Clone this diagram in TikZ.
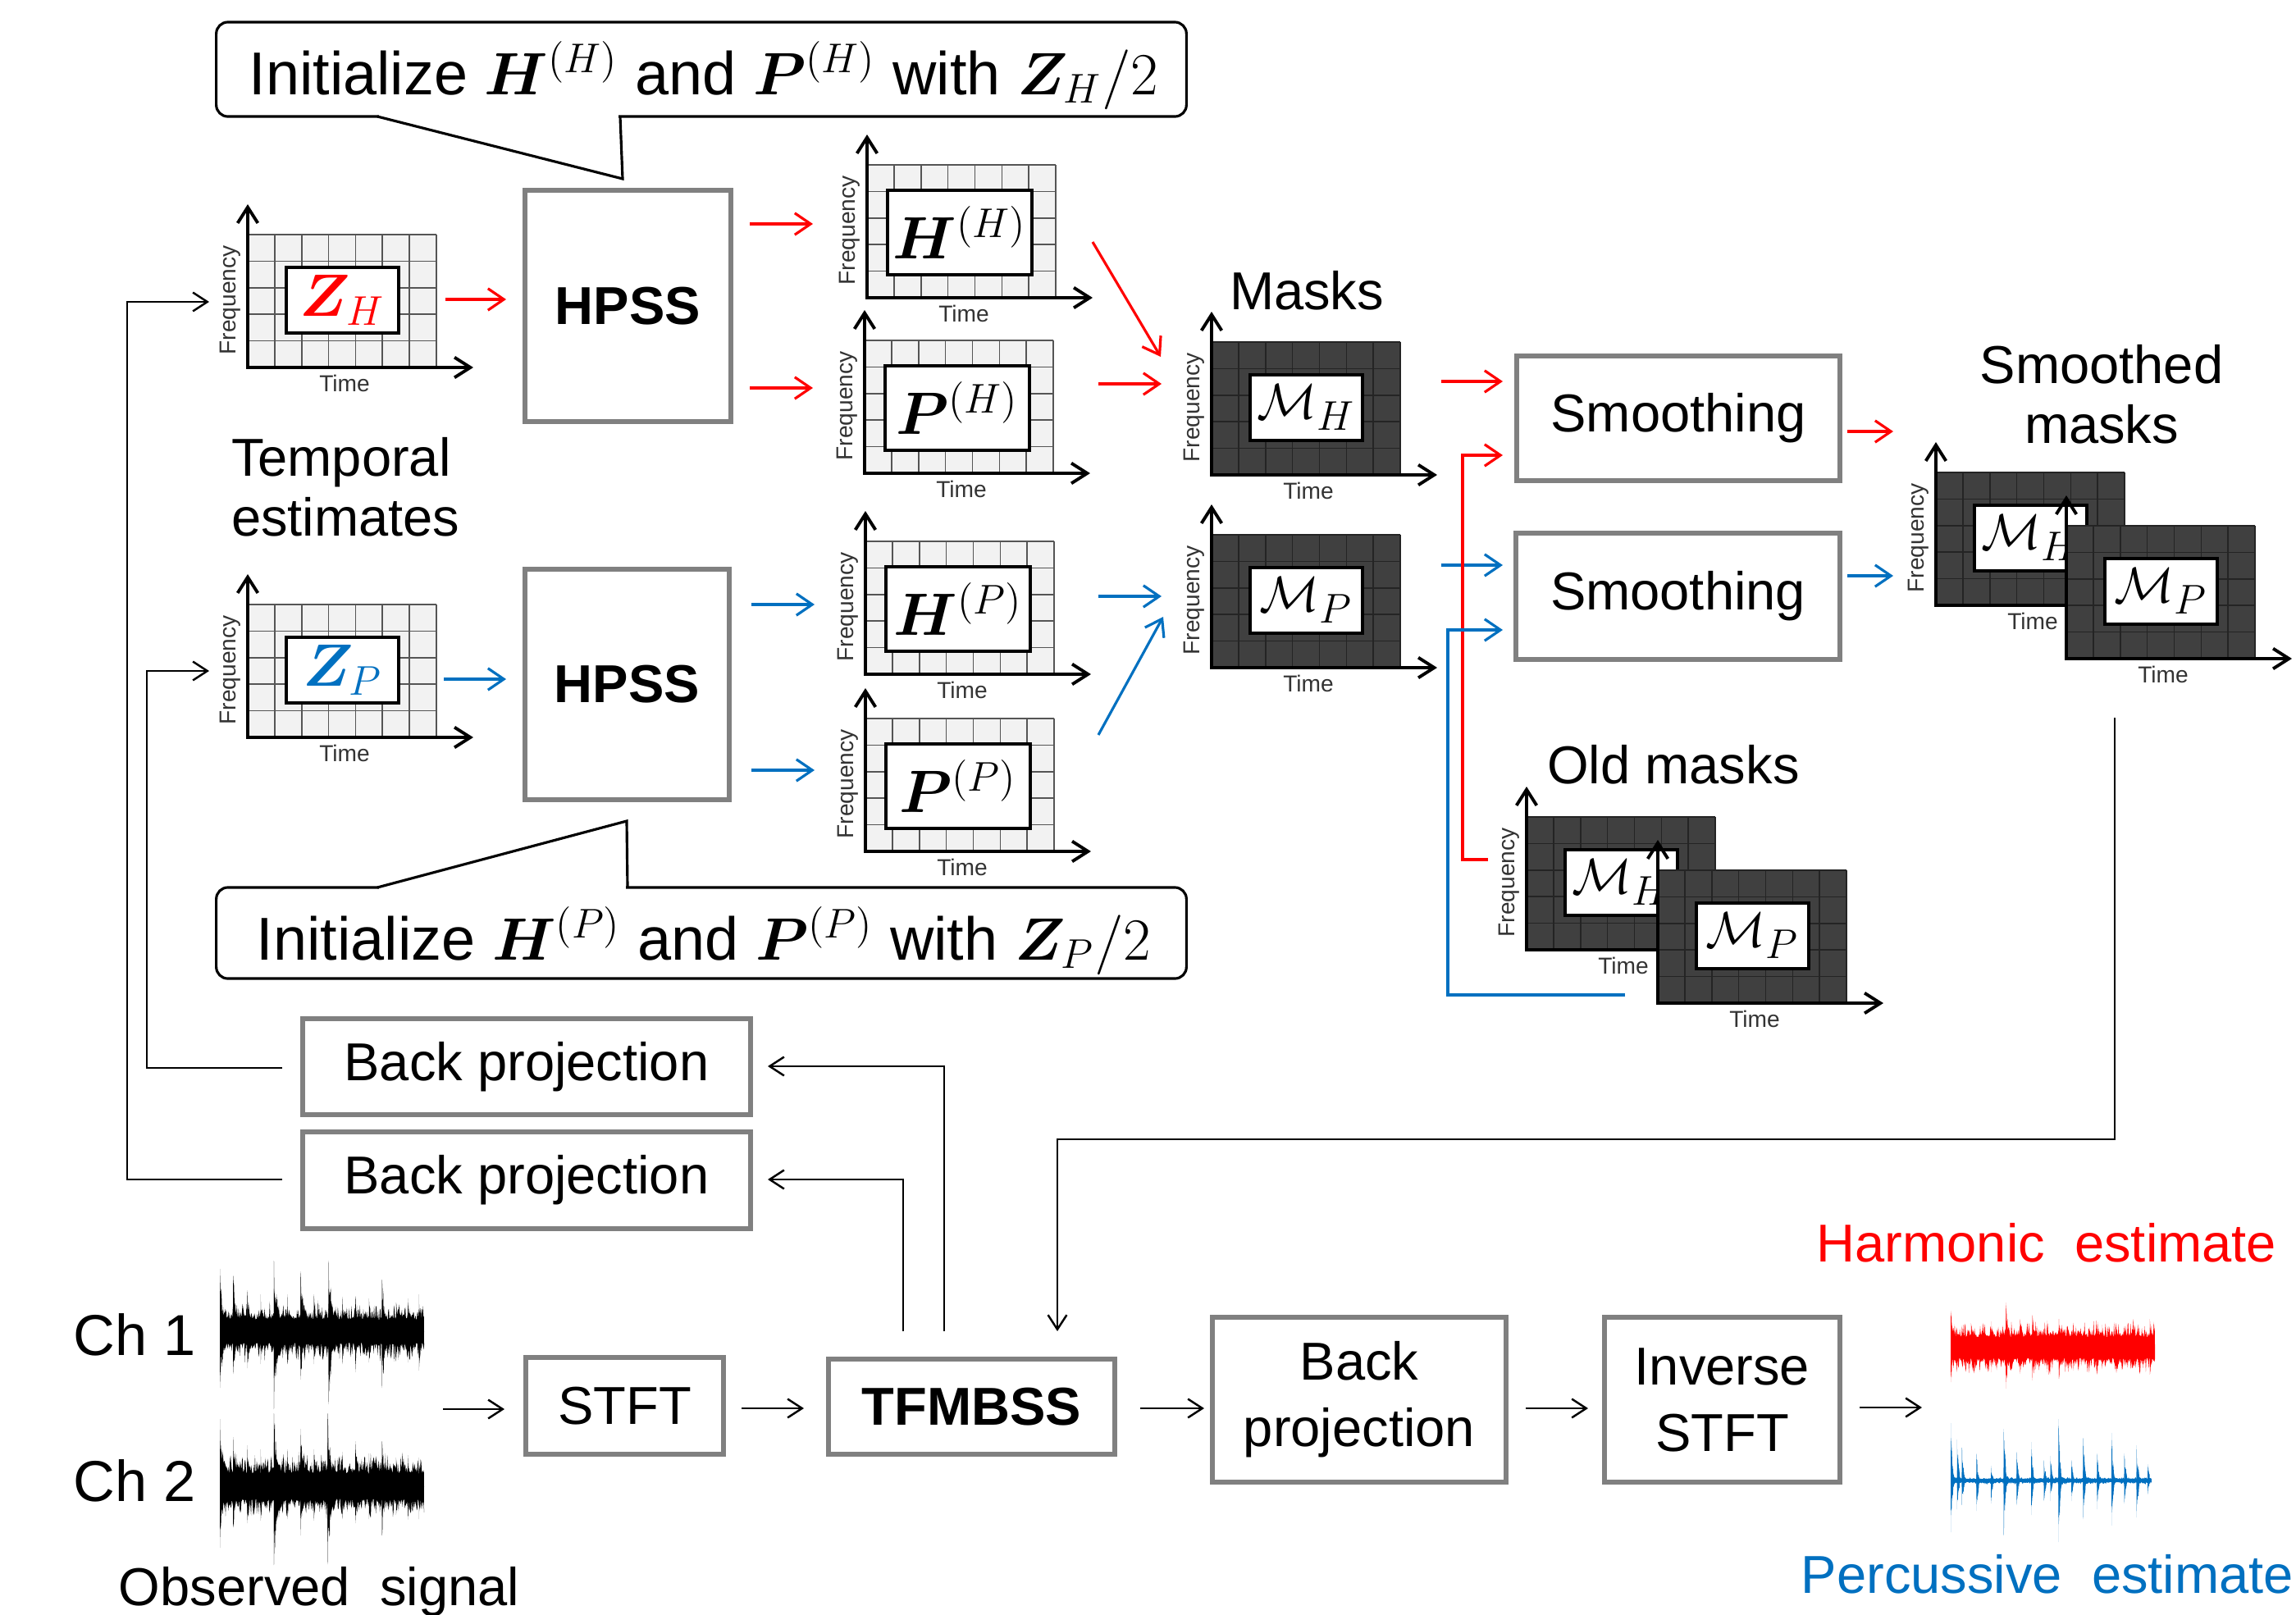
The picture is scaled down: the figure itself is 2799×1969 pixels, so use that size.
\documentclass[tikz,border=0pt]{standalone}
\usepackage[no-math]{fontspec}
\setmainfont{Liberation Sans}
\usepackage{amsmath,bm}
\usetikzlibrary{arrows.meta,calc}
\definecolor{hred}{RGB}{255,0,0}
\definecolor{pblue}{RGB}{0,112,192}
\definecolor{boxgray}{RGB}{128,128,128}
\definecolor{lgfill}{RGB}{242,242,242}
\definecolor{lgline}{RGB}{85,85,85}
\definecolor{dkfill}{RGB}{64,64,64}
\definecolor{dkline}{RGB}{36,36,36}

% box from corners: style, name, x1, y1, x2, y2, text
\newcommand\bx[7]{%
  \pgfmathsetmacro\bxcx{(#3+#5)/2}%
  \pgfmathsetmacro\bxcy{(#4+#6)/2}%
  \pgfmathsetmacro\bxw{abs(#5-#3)/100}%
  \pgfmathsetmacro\bxh{abs(#6-#4)/100}%
  \node[#1, minimum width=\bxw cm, minimum height=\bxh cm] (#2) at (\bxcx,\bxcy) {#7};%
}
% spectrogram: name, x0, y0 (origin), fill, line, kind, label
\newcommand\spec[7]{%
  \fill[#4] (#2,{#3-162}) rectangle ({#2+230},#3);
  \foreach \i in {1,...,7} \draw[#5, line width=0.45pt] ({#2+\i*230/7},#3) -- ({#2+\i*230/7},{#3-162});
  \foreach \j in {1,...,5} \draw[#5, line width=0.45pt] (#2,{#3-\j*162/5}) -- ({#2+230},{#3-\j*162/5});
  \draw[axis] (#2,{#3-199}) -- (#2,#3) -- ({#2+275},#3);
  \node[timelab] (#1-time) at ({#2+118},{#3+19}) {Time};
  \ifnum#6=1
    \node[inbox, minimum width=1.37cm, minimum height=0.80cm, font=\fontsize{19}{22}\selectfont] (#1) at ({#2+115.5},{#3-82}) {#7};
  \else
    \node[inbox, minimum width=1.76cm, minimum height=1.03cm, font=\fontsize{21}{24}\selectfont] (#1) at ({#2+113},{#3-79.5}) {#7};
  \fi
}
\newcommand\freq[3]{\node[freqlab] (#1) at ({#2-21},{#3-82}) {Frequency};}
% waveform body: x0, W, yc, amp, color, samples
\newcommand\wbody[6]{%
  \fill[#5] plot[domain=0:1, samples=#6, variable=\t] ({#1+#2*\t},{#3-#4*(0.35+0.65*rnd*rnd)}) -- plot[domain=1:0, samples=#6, variable=\t] ({#1+#2*\t},{#3+#4*(0.35+0.65*rnd*rnd)}) -- cycle;}
% bump (quadratic decay): x0, W, yc, p, hup, hdown, width, color
\newcommand\wspike[8]{%
  \fill[#8] plot[domain=0:1, samples=16, variable=\s] ({#1+#2*(#4+(#7)*\s)},{#3-(#5)*(1-\s)*(1-\s)*(1-0.5*rnd*(\s>0.001))}) -- plot[domain=1:0, samples=16, variable=\s] ({#1+#2*(#4+(#7)*\s)},{#3+(#6)*(1-\s)*(1-\s)*(1-0.5*rnd*(\s>0.001))}) -- cycle;}
% needle (sharp decay, jagged): same args
\newcommand\wneedle[8]{%
  \fill[#8] plot[domain=0:1, samples=16, variable=\s] ({#1+#2*(#4+(#7)*\s)},{#3-(#5)*(1-\s)*(1-0.6*rnd*(\s>0.001))}) -- plot[domain=1:0, samples=16, variable=\s] ({#1+#2*(#4+(#7)*\s)},{#3+(#6)*(1-\s)*(1-0.6*rnd*(\s>0.001))}) -- cycle;}

\begin{document}
\begin{tikzpicture}[x=0.01cm, y=-0.01cm,
  every node/.style={inner sep=0pt, outer sep=0pt},
  gbox/.style={draw=boxgray, line width=1.7pt, fill=white, font=\fontsize{18.5}{23}\selectfont, align=center},
  inbox/.style={draw=black, line width=1.1pt, fill=white},
  axis/.style={line width=1.1pt, {Straight Barb[length=5.5pt,width=7pt]}-{Straight Barb[length=5.5pt,width=7pt]}},
  carr/.style={line width=0.9pt, -{Straight Barb[length=5.5pt,width=7.5pt]}},
  karr/.style={line width=0.7pt, black, -{Straight Barb[length=5pt,width=6.5pt]}},
  txt/.style={font=\fontsize{18.5}{22}\selectfont},
  timelab/.style={font=\fontsize{8}{9}\selectfont, text=black!80},
  freqlab/.style={font=\fontsize{8}{9}\selectfont, text=black!80, rotate=90},
  callout/.style={draw=black, line width=0.9pt, fill=white, rounded corners=4pt},
]
\pgfmathsetseed{12345}
\useasboundingbox (0,0) rectangle (2799,1969);
\fill[white] (0,0) rectangle (2799,1969);

% ---------- callouts ----------
\bx{callout}{co1}{264}{27}{1446}{142}{}
\fill[white] (462,136) rectangle (754,148);
\draw[line width=0.9pt, line join=miter] (460,142) -- (759,218) -- (756,142);
\node[font=\fontsize{21}{24}\selectfont, anchor=base] (co1t) at (858,115) {Initialize $\bm{H}^{(H)}$ and $\bm{P}^{(H)}$ with $\bm{Z}_H/2$};

\bx{callout}{co2}{264}{1082}{1446}{1193}{}
\fill[white] (462,1076) rectangle (763,1088);
\draw[line width=0.9pt, line join=miter] (460,1082) -- (764,1001) -- (765,1082);
\node[font=\fontsize{21}{24}\selectfont, anchor=base] (co2t) at (858,1170) {Initialize $\bm{H}^{(P)}$ and $\bm{P}^{(P)}$ with $\bm{Z}_P/2$};

% ---------- spectrograms ----------
\spec{zh}{302}{448}{lgfill}{lgline}{1}{\fontsize{22}{24}\selectfont\color{hred}$\bm{Z}_H$}
\freq{zh-f}{302}{448}
\spec{zp}{302}{899}{lgfill}{lgline}{1}{\fontsize{22}{24}\selectfont\color{pblue}$\bm{Z}_P$}
\freq{zp-f}{302}{899}
\spec{hh}{1057}{363}{lgfill}{lgline}{2}{$\bm{H}^{(H)}$}
\freq{hh-f}{1057}{363}
\spec{ph}{1054}{577}{lgfill}{lgline}{2}{$\bm{P}^{(H)}$}
\freq{ph-f}{1054}{577}
\spec{hp}{1055}{822}{lgfill}{lgline}{2}{$\bm{H}^{(P)}$}
\freq{hp-f}{1055}{822}
\spec{pp}{1055}{1038}{lgfill}{lgline}{2}{$\bm{P}^{(P)}$}
\freq{pp-f}{1055}{1038}
\spec{mh}{1477}{579}{dkfill}{dkline}{1}{$\mathcal{M}_H$}
\freq{mh-f}{1477}{579}
\spec{mp}{1477}{814}{dkfill}{dkline}{1}{$\mathcal{M}_P$}
\freq{mp-f}{1477}{814}
\spec{smh}{2360}{738}{dkfill}{dkline}{1}{$\mathcal{M}_H$}
\freq{smh-f}{2360}{738}
\spec{smp}{2519}{803}{dkfill}{dkline}{1}{$\mathcal{M}_P$}
\spec{omh}{1861}{1158}{dkfill}{dkline}{1}{$\mathcal{M}_H$}
\freq{omh-f}{1861}{1158}
\spec{omp}{2021}{1223}{dkfill}{dkline}{1}{$\mathcal{M}_P$}

% ---------- labels ----------
\node[txt, anchor=base west] (temp1) at (282,580) {Temporal};
\node[txt, anchor=base west] (temp2) at (282,653) {estimates};
\node[txt, anchor=base] (masks) at (1593,377) {Masks};
\node[txt, anchor=base] (smo1) at (2562,467) {Smoothed};
\node[txt, anchor=base] (smo2) at (2562,540) {masks};
\node[txt, anchor=base] (old) at (2040,955) {Old masks};

% ---------- boxes ----------
\bx{gbox, font=\fontsize{18.5}{22}\selectfont\bfseries}{hpss1}{640}{232}{891}{514}{HPSS}
\bx{gbox, font=\fontsize{18.5}{22}\selectfont\bfseries}{hpss2}{640}{694}{889}{975}{HPSS}
\bx{gbox}{sm1}{1849}{434}{2243}{586}{Smoothing}
\bx{gbox}{sm2}{1848}{650}{2243}{804}{Smoothing}
\bx{gbox}{bp1}{369}{1242}{915}{1359}{Back projection}
\bx{gbox}{bp2}{369}{1380}{915}{1498}{Back projection}
\bx{gbox}{stft}{641}{1655}{882}{1773}{STFT}
\bx{gbox, font=\fontsize{18.5}{22}\selectfont\bfseries}{tfm}{1010}{1657}{1359}{1773}{TFMBSS}
\bx{gbox}{bp3}{1478}{1606}{1836}{1807}{Back\\projection}
\bx{gbox}{istft}{1956}{1606}{2243}{1807}{Inverse\\STFT}

% ---------- colored connectors ----------
\coordinate (a1s) at (543,365); \coordinate (a1e) at (617,365);
\draw[carr, hred] (a1s) -- (a1e);
\coordinate (a2s) at (541,828); \coordinate (a2e) at (617,828);
\draw[carr, pblue] (a2s) -- (a2e);
\coordinate (a3s) at (914,273); \coordinate (a3e) at (991,273);
\draw[carr, hred] (a3s) -- (a3e);
\coordinate (a4s) at (914,473); \coordinate (a4e) at (991,473);
\draw[carr, hred] (a4s) -- (a4e);
\coordinate (a5s) at (916,737); \coordinate (a5e) at (993,737);
\draw[carr, pblue] (a5s) -- (a5e);
\coordinate (a6s) at (916,939); \coordinate (a6e) at (993,939);
\draw[carr, pblue] (a6s) -- (a6e);
\coordinate (a7s) at (1332,295); \coordinate (a7e) at (1415,435);
\draw[carr, hred] (a7s) -- (a7e);
\coordinate (a8s) at (1339,468); \coordinate (a8e) at (1416,468);
\draw[carr, hred] (a8s) -- (a8e);
\coordinate (a9s) at (1339,727); \coordinate (a9e) at (1416,727);
\draw[carr, pblue] (a9s) -- (a9e);
\coordinate (a10s) at (1339,896); \coordinate (a10e) at (1418,752);
\draw[carr, pblue] (a10s) -- (a10e);
\coordinate (a11s) at (1757,465); \coordinate (a11e) at (1832,465);
\draw[carr, hred] (a11s) -- (a11e);
\coordinate (a12s) at (1757,689); \coordinate (a12e) at (1832,689);
\draw[carr, pblue] (a12s) -- (a12e);
\coordinate (a13s) at (1814,1048); \coordinate (a13e) at (1832,555);
\draw[carr, hred] (a13s) -- (1783,1048) -- (1783,555) -- (a13e);
\coordinate (a14s) at (1981,1213); \coordinate (a14e) at (1832,768);
\draw[carr, pblue] (a14s) -- (1765,1213) -- (1765,768) -- (a14e);
\coordinate (a15s) at (2252,526); \coordinate (a15e) at (2308,526);
\draw[carr, hred] (a15s) -- (a15e);
\coordinate (a16s) at (2252,702); \coordinate (a16e) at (2308,702);
\draw[carr, pblue] (a16s) -- (a16e);

% ---------- black connectors ----------
\coordinate (fb) at (2578,875); \coordinate (tfmin) at (1289,1623);
\draw[karr] (fb) -- (2578,1389) -- (1289,1389) -- (tfmin);
\coordinate (t1) at (1151,1623); \coordinate (bp1in) at (936,1300);
\draw[karr] (t1) -- (1151,1300) -- (bp1in);
\coordinate (t2) at (1101,1623); \coordinate (bp2in) at (936,1438);
\draw[karr] (t2) -- (1101,1438) -- (bp2in);
\coordinate (bp1out) at (344,1302); \coordinate (zpin) at (255,818);
\draw[karr] (bp1out) -- (179,1302) -- (179,818) -- (zpin);
\coordinate (bp2out) at (344,1438); \coordinate (zhin) at (255,368);
\draw[karr] (bp2out) -- (155,1438) -- (155,368) -- (zhin);
\coordinate (b1s) at (540,1718); \coordinate (b1e) at (615,1718);
\draw[karr] (b1s) -- (b1e);
\coordinate (b2s) at (904,1717); \coordinate (b2e) at (980,1717);
\draw[karr] (b2s) -- (b2e);
\coordinate (b3s) at (1390,1717); \coordinate (b3e) at (1468,1717);
\draw[karr] (b3s) -- (b3e);
\coordinate (b4s) at (1860,1717); \coordinate (b4e) at (1936,1717);
\draw[karr] (b4s) -- (b4e);
\coordinate (b5s) at (2267,1716); \coordinate (b5e) at (2343,1716);
\draw[karr] (b5s) -- (b5e);

% ---------- waveforms ----------
\node[font=\fontsize{20}{24}\selectfont, anchor=base west] (ch1) at (90,1652) {Ch 1};
\node[font=\fontsize{20}{24}\selectfont, anchor=base west] (ch2) at (90,1830) {Ch 2};
\node[txt, anchor=base] (obs) at (389,1957) {Observed\ \ signal};
\node[txt, anchor=base, text=hred] (harm) at (2495,1538) {Harmonic\ \ estimate};
\node[txt, anchor=base east, text=pblue] (perc) at (2796,1942) {Percussive\ \ estimate};

\wbody{268}{249}{1623}{40}{black}{360}
\foreach \pp/\hu/\hd in {0/76/69,0.065/68/52,0.134/50/45,0.2/45/40,0.265/86/95,0.33/45/40,0.395/73/59,0.46/45/40,0.533/86/89,0.6/42/40,0.663/43/50,0.73/40/38,0.794/63/69,0.863/35/35,0.92/40/38,0.975/45/48}
  {\wneedle{268}{249}{1623}{\pp}{\hu}{\hd}{min(0.03,1-\pp)}{black}\wspike{268}{249}{1623}{\pp}{0.6*\hu}{0.6*\hd}{min(0.11,1-\pp)}{black}}
\wbody{268}{249}{1812}{44}{black}{360}
\foreach \pp/\hu/\hd in {0/82/75,0.065/60/50,0.134/50/45,0.2/45/42,0.265/89/96,0.33/45/40,0.395/70/60,0.46/45/42,0.528/89/95,0.6/42/40,0.663/55/45,0.73/40/40,0.794/55/60,0.863/35/35,0.92/38/36,0.975/35/40}
  {\wneedle{268}{249}{1812}{\pp}{\hu}{\hd}{min(0.03,1-\pp)}{black}\wspike{268}{249}{1812}{\pp}{0.6*\hu}{0.6*\hd}{min(0.11,1-\pp)}{black}}

\wbody{2378}{249}{1643}{36}{hred}{360}
\foreach \pp/\hu/\hd in {0/45/42,0.1/30/25,0.2/32/30,0.27/55/50,0.34/35/32,0.4/40/40,0.47/33/30,0.53/35/38,0.6/30/28,0.68/25/22,0.74/28/26,0.8/20/20,0.88/28/26,0.975/35/33}
  {\wneedle{2378}{249}{1643}{\pp}{\hu}{\hd}{min(0.03,1-\pp)}{hred}\wspike{2378}{249}{1643}{\pp}{0.7*\hu}{0.7*\hd}{min(0.11,1-\pp)}{hred}}

\wbody{2378}{245}{1805}{5}{pblue}{300}
\foreach \pp/\hu/\hd in {0/70/63,0.032/50/35,0.056/40/30,0.128/33/37,0.2/18/28,0.264/63/67,0.328/35/30,0.4/47/42,0.464/25/25,0.496/30/25,0.536/75/75,0.6/25/25,0.659/52/47,0.728/33/35,0.8/58/55,0.864/33/28,0.925/43/45,0.98/20/17}
  {\wneedle{2378}{245}{1805}{\pp}{\hu}{\hd}{min(0.016,1-\pp)}{pblue}\wspike{2378}{245}{1805}{\pp}{0.25*\hu}{0.25*\hd}{min(0.045,1-\pp)}{pblue}}
\end{tikzpicture}
\end{document}
